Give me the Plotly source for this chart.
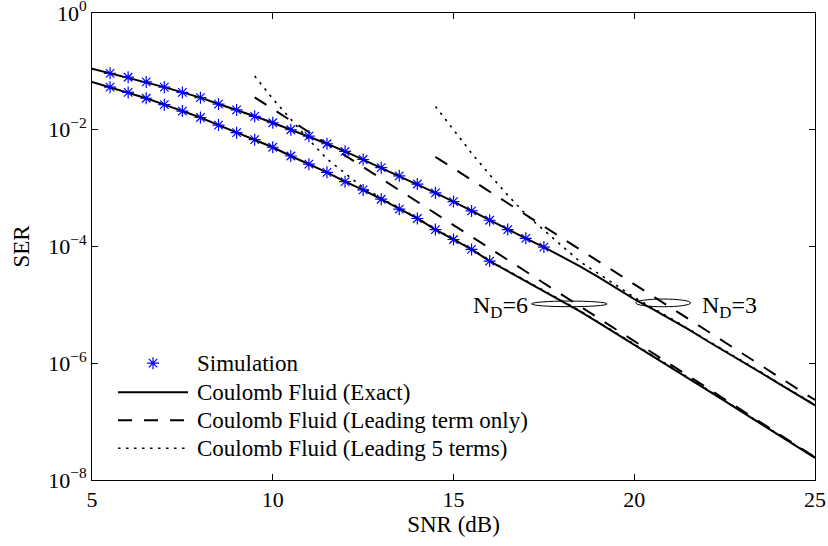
import plotly.graph_objects as go

# ---------------- data ----------------
snr_grid = [5.0, 5.5, 6.0, 6.5, 7.0, 7.5, 8.0, 8.5, 9.0, 9.5, 10.0, 10.5, 11.0, 11.5,
            12.0, 12.5, 13.0, 13.5, 14.0, 14.5, 15.0, 15.5, 16.0, 16.5, 17.0, 17.5,
            18.0, 18.5, 19.0, 19.5, 20.0, 20.5, 21.0, 21.5, 22.0, 22.5, 23.0, 23.5,
            24.0, 24.5, 25.0]

# log10(SER), Coulomb fluid exact
exact_nd3_log10 = [-0.955, -1.034, -1.10, -1.18, -1.27, -1.36, -1.45, -1.56, -1.66, -1.77,
                   -1.88, -2.00, -2.11, -2.24, -2.37, -2.51, -2.65, -2.79, -2.93, -3.08,
                   -3.23, -3.39, -3.55, -3.71, -3.86, -4.01, -4.17, -4.34, -4.52, -4.71,
                   -4.90, -5.07, -5.24, -5.42, -5.61, -5.79, -5.98, -6.16, -6.35, -6.53,
                   -6.72]
exact_nd6_log10 = [-1.18, -1.27, -1.36, -1.46, -1.57, -1.68, -1.79, -1.92, -2.05, -2.17,
                   -2.30, -2.45, -2.59, -2.73, -2.89, -3.03, -3.19, -3.36, -3.52, -3.71,
                   -3.88, -4.05, -4.25, -4.42, -4.59, -4.76, -4.93, -5.11, -5.30, -5.49,
                   -5.69, -5.88, -6.07, -6.26, -6.45, -6.645, -6.84, -7.035, -7.23, -7.425,
                   -7.62]

# Simulation points
sim_nd3_snr = [5.5, 6.0, 6.5, 7.0, 7.5, 8.0, 8.5, 9.0, 9.5, 10.0, 10.5, 11.0, 11.5, 12.0,
               12.5, 13.0, 13.5, 14.0, 14.5, 15.0, 15.5, 16.0, 16.5, 17.0, 17.5]
sim_nd3_log10 = [-1.034, -1.10, -1.18, -1.27, -1.36, -1.45, -1.56, -1.66, -1.77, -1.88,
                 -2.00, -2.11, -2.24, -2.37, -2.51, -2.65, -2.79, -2.93, -3.08, -3.23,
                 -3.39, -3.55, -3.71, -3.86, -4.01]
sim_nd6_snr = [5.5, 6.0, 6.5, 7.0, 7.5, 8.0, 8.5, 9.0, 9.5, 10.0, 10.5, 11.0, 11.5, 12.0,
               12.5, 13.0, 13.5, 14.0, 14.5, 15.0, 15.5, 16.0]
sim_nd6_log10 = [-1.27, -1.36, -1.46, -1.57, -1.68, -1.79, -1.92, -2.05, -2.17, -2.30,
                 -2.45, -2.59, -2.73, -2.89, -3.03, -3.19, -3.36, -3.52, -3.71, -3.88,
                 -4.05, -4.25]

# Leading term only (straight asymptotes)
lead1_nd3_snr = [14.5, 17.0, 20.0, 22.5, 25.0]
lead1_nd3_log10 = [-2.465, -3.46, -4.65, -5.64, -6.63]
lead1_nd6_snr = [9.5, 12.0, 15.0, 17.5, 20.0, 22.5, 25.0]
lead1_nd6_log10 = [-1.445, -2.44, -3.63, -4.63, -5.62, -6.615, -7.61]

# Leading 5 terms
lead5_nd3_snr = [14.5, 15.0, 15.5, 16.0, 16.5, 17.0, 17.5, 18.0, 18.5, 19.0, 19.5,
                 20.0, 20.5, 21.0, 21.5, 22.0, 22.5, 23.0, 23.5, 24.0, 24.5, 25.0]
lead5_nd3_log10 = [-1.60, -2.01, -2.40, -2.77, -3.12, -3.45, -3.72, -3.98, -4.26, -4.46,
                   -4.67, -4.87, -5.05, -5.225, -5.41, -5.60, -5.78, -5.97, -6.15, -6.34,
                   -6.52, -6.71]
lead5_nd6_snr = [9.5, 10.0, 10.5, 11.0, 11.5, 12.0, 12.5, 13.0, 13.5, 14.0, 14.5, 15.0,
                 15.5, 16.0, 16.5, 17.0, 17.5, 18.0, 18.5, 19.0, 19.5, 20.0, 20.5, 21.0,
                 21.5, 22.0, 22.5, 23.0, 23.5, 24.0, 24.5, 25.0]
lead5_nd6_log10 = [-1.08, -1.47, -1.82, -2.17, -2.50, -2.75, -2.99, -3.17, -3.34, -3.51,
                   -3.70, -3.87, -4.04, -4.24, -4.41, -4.58, -4.75, -4.92, -5.10, -5.29,
                   -5.48, -5.68, -5.87, -6.06, -6.25, -6.44, -6.64, -6.835, -7.03, -7.225,
                   -7.42, -7.615]

x_tick_vals = [5, 10, 15, 20, 25]
y_tick_vals = [1e-8, 1e-6, 1e-4, 1e-2, 1]
y_tick_text = ["10<sup>\u22128</sup>", "10<sup>\u22126</sup>", "10<sup>\u22124</sup>",
               "10<sup>\u22122</sup>", "10<sup>0</sup>"]

legend_names = ["Simulation", "Coulomb Fluid (Exact)",
                "Coulomb Fluid (Leading term only)", "Coulomb Fluid (Leading 5 terms)"]


def ser(vals):
    return [10 ** v for v in vals]


FONT = "Liberation Serif, Times New Roman, serif"
BLACK = "#000000"
BLUE = "#0000ff"
SOLID = dict(color=BLACK, width=2)
DASHED = dict(color=BLACK, width=2, dash="14px,12px")
DOTTED = dict(color=BLACK, width=1.6, dash="2.5px,5.5px")
STAR = dict(symbol="asterisk-open", size=10, color=BLUE, line=dict(color=BLUE, width=1.2))

fig = go.Figure()

for vals in [exact_nd3_log10, exact_nd6_log10]:
    fig.add_trace(go.Scatter(x=snr_grid, y=ser(vals), mode="lines", line=SOLID,
                             name=legend_names[1], showlegend=False))
for xs, vals in [(lead1_nd3_snr, lead1_nd3_log10), (lead1_nd6_snr, lead1_nd6_log10)]:
    fig.add_trace(go.Scatter(x=xs, y=ser(vals), mode="lines", line=DASHED,
                             name=legend_names[2], showlegend=False))
for xs, vals in [(lead5_nd3_snr, lead5_nd3_log10), (lead5_nd6_snr, lead5_nd6_log10)]:
    fig.add_trace(go.Scatter(x=xs, y=ser(vals), mode="lines", line=DOTTED,
                             name=legend_names[3], showlegend=False))
for xs, vals in [(sim_nd3_snr, sim_nd3_log10), (sim_nd6_snr, sim_nd6_log10)]:
    fig.add_trace(go.Scatter(x=xs, y=ser(vals), mode="markers", marker=STAR,
                             name=legend_names[0], showlegend=False))

# ---------------- legend drawn in paper coordinates ----------------
leg_rows_y = [0.2502, 0.1880, 0.1280, 0.0680]
leg_x0, leg_x1, leg_text_x = 0.036, 0.1328, 0.1425
fig.add_trace(go.Scatter(x=[(leg_x0 + leg_x1) / 2], y=[leg_rows_y[0]], mode="markers",
                         marker=STAR, xaxis="x2", yaxis="y2", showlegend=False,
                         hoverinfo="skip"))
for row, style in zip(leg_rows_y[1:], [SOLID, DASHED, DOTTED]):
    fig.add_shape(type="line", xref="paper", yref="paper", x0=leg_x0, x1=leg_x1,
                  y0=row, y1=row, line=style)
for row, name in zip(leg_rows_y, legend_names):
    fig.add_annotation(x=leg_text_x, y=row, xref="paper", yref="paper", text=name,
                       showarrow=False, xanchor="left", yanchor="middle",
                       font=dict(family=FONT, size=23, color=BLACK))

# ---------------- ellipses and N_D labels ----------------
fig.add_shape(type="circle", xref="x", yref="y", x0=17.16, x1=19.25,
              y0=10 ** (-4.983 - 0.048), y1=10 ** (-4.983 + 0.048),
              line=dict(color=BLACK, width=1))
fig.add_shape(type="circle", xref="x", yref="y", x0=20.04, x1=21.56,
              y0=10 ** (-4.966 - 0.066), y1=10 ** (-4.966 + 0.066),
              line=dict(color=BLACK, width=1))
fig.add_annotation(x=17.12, y=-5.04, xref="x", yref="y", text="N<sub>D</sub>=6",
                   showarrow=False, xanchor="right", yanchor="middle",
                   font=dict(family=FONT, size=24, color=BLACK))
fig.add_annotation(x=21.82, y=-5.04, xref="x", yref="y", text="N<sub>D</sub>=3",
                   showarrow=False, xanchor="left", yanchor="middle",
                   font=dict(family=FONT, size=24, color=BLACK))

axis_common = dict(showline=True, linecolor=BLACK, linewidth=1, mirror="ticks",
                   ticks="inside", ticklen=6, tickcolor=BLACK, tickwidth=1,
                   showgrid=False, zeroline=False, ticklabeloverflow="allow",
                   tickfont=dict(family=FONT, size=22, color=BLACK))

fig.update_xaxes(range=[5, 25], tickvals=x_tick_vals,
                 title=dict(text="SNR (dB)", font=dict(family=FONT, size=23, color=BLACK),
                            standoff=4),
                 **axis_common)
fig.update_yaxes(type="log", range=[-8, 0], tickvals=y_tick_vals, ticktext=y_tick_text,
                 title=dict(text="SER", font=dict(family=FONT, size=23, color=BLACK),
                            standoff=12),
                 **axis_common)

fig.update_layout(
    width=828, height=546,
    margin=dict(l=92, r=13, t=13, b=66, autoexpand=False),
    paper_bgcolor="white", plot_bgcolor="white",
    font=dict(family=FONT, color=BLACK),
    showlegend=False,
    hovermode=False,
    xaxis2=dict(overlaying="x", range=[0, 1], visible=False),
    yaxis2=dict(overlaying="y", range=[0, 1], visible=False),
)

fig.write_html("out.html", config={"displayModeBar": False, "staticPlot": True},
               post_script="document.body.style.margin='0px';")
